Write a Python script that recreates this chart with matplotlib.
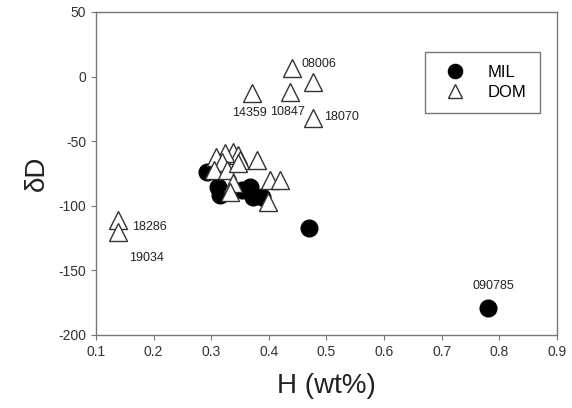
import matplotlib
matplotlib.use("Agg")
import matplotlib.pyplot as plt

plt.rcParams['font.family'] = ['Liberation Sans', 'DejaVu Sans']

# MIL samples (filled circles)
mil_h = [0.292, 0.312, 0.315, 0.353, 0.367, 0.372, 0.388, 0.470, 0.781]
mil_dd = [-73.6, -85.2, -91.6, -87.8, -85.2, -93.0, -93.0, -117.0, -179.0]

# DOM samples (open triangles)
dom_h = [0.440, 0.477, 0.437, 0.370, 0.477, 0.139, 0.139,
         0.338, 0.347, 0.324, 0.309, 0.350, 0.318, 0.379, 0.304,
         0.327, 0.347, 0.338, 0.333, 0.402, 0.419, 0.399]
dom_dd = [6.4, -3.9, -11.7, -12.4, -32.3, -111.0, -120.0,
          -58.0, -61.0, -59.4, -62.0, -64.6, -66.0, -64.6, -72.3,
          -72.3, -67.0, -82.6, -89.0, -80.0, -80.0, -96.8]

# sample labels: text, x, y, horizontal alignment
label_text = ['08006', '14359', '10847', '18070', '18286', '19034', '090785']
label_x = [0.457, 0.366, 0.432, 0.496, 0.162, 0.188, 0.790]
label_y = [9.8, -28.4, -27.2, -31.5, -116.6, -140.2, -162.0]
label_ha = ['left', 'center', 'center', 'left', 'left', 'center', 'center']

fig = plt.figure(figsize=(5.72, 4.08), dpi=100)
ax = fig.add_axes([0.1678, 0.179, 0.806, 0.7916])

ax.plot(mil_h, mil_dd, 'o', color='black', markersize=12, linestyle='none', label='MIL')
ax.plot(dom_h, dom_dd, '^', markerfacecolor='white', markeredgecolor='#333333',
        markeredgewidth=1.0, markersize=12.5, linestyle='none', label='DOM')

for t, x, y, ha in zip(label_text, label_x, label_y, label_ha):
    ax.text(x, y, t, fontsize=9, ha=ha, va='center', color='#222222')

ax.set_xlim(0.1, 0.9)
ax.set_ylim(-200, 50)
ax.set_xticks([0.1, 0.2, 0.3, 0.4, 0.5, 0.6, 0.7, 0.8, 0.9])
ax.set_xticklabels(['0.1', '0.2', '0.3', '0.4', '0.5', '0.6', '0.7', '0.8', '0.9'])
ax.set_yticks([-200, -150, -100, -50, 0, 50])
ax.set_yticklabels(['-200', '-150', '-100', '-50', '0', '50'])

for s in ax.spines.values():
    s.set_color('#777777')
    s.set_linewidth(1.0)
ax.tick_params(direction='out', length=3.5, width=0.8, color='#777777',
               labelsize=10, labelcolor='#333333')

ax.set_xlabel('H (wt%)', fontsize=20, color='#222222', labelpad=10)
ax.set_ylabel('δD', fontsize=20, color='#222222', labelpad=6)

leg = ax.legend(loc='upper right', bbox_to_anchor=(0.963, 0.877), borderaxespad=0,
                fontsize=12, frameon=True, fancybox=False, handletextpad=1.0,
                borderpad=0.8, labelspacing=0.3, markerscale=0.85)
leg.get_frame().set_edgecolor('#555555')
leg.get_frame().set_linewidth(1.0)

fig.savefig('out.png', dpi=100)
